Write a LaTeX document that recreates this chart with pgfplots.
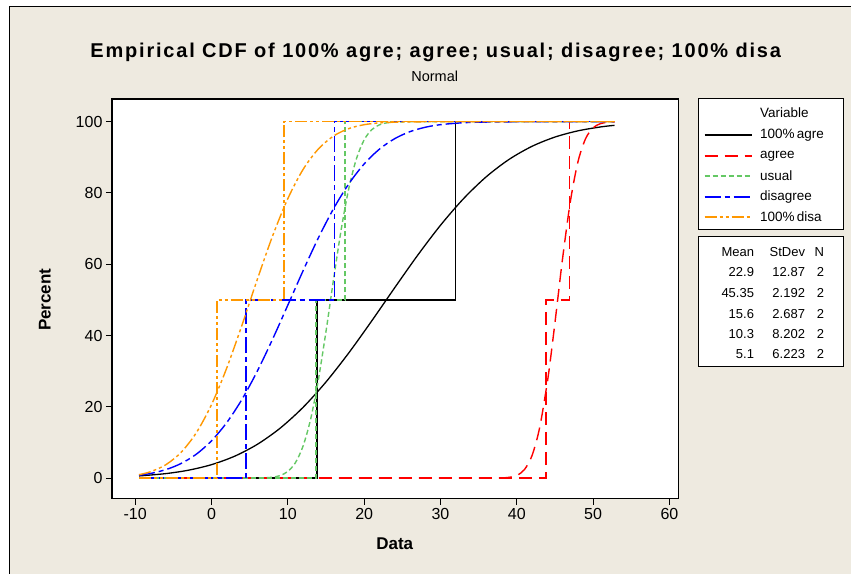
\documentclass[border=0pt]{standalone}
\usepackage{fontspec}
\setmainfont{Liberation Sans}
\newfontfamily\titlefont{Liberation Sans}[LetterSpace=9]
\usepackage{pgfplots}
\pgfplotsset{compat=1.18}
\definecolor{bgbeige}{RGB}{238,234,224}
\definecolor{mgreen}{RGB}{100,200,100}
\definecolor{morange}{RGB}{255,152,0}
\definecolor{mred}{RGB}{255,0,0}
\definecolor{mblue}{RGB}{0,0,255}
\tikzset{
 s1/.style={draw=black, line width=1.3pt},
 s2/.style={draw=mred, line width=1.4pt, dash pattern=on 13pt off 7pt},
 s3/.style={draw=mgreen, line width=1.4pt, dash pattern=on 5pt off 3pt},
 s4/.style={draw=mblue, line width=1.4pt, dash pattern=on 16pt off 4pt on 5pt off 4pt},
 s5/.style={draw=morange, line width=1.4pt, dash pattern=on 12pt off 3pt on 3pt off 3pt on 3pt off 3pt},
}
\begin{document}
\begin{tikzpicture}[x=1pt,y=1pt]
\fill[white] (0,0) rectangle (851,574);
\fill[bgbeige] (10,0) rectangle (851,567);
\draw[black, line width=1pt] (10,0) -- (10,567) -- (851,567);
\begin{axis}[at={(112pt,75pt)}, anchor=south west,
  width=567pt, height=400pt, scale only axis,
  xmin=-13.05, xmax=61.2, ymin=-5.8, ymax=106.4,
  xtick={-10,0,...,60}, ytick={0,20,...,100},
  tick align=outside, xtick pos=bottom, ytick pos=left,
  major tick length=6pt,
  axis line style={line width=1.2pt},
  every tick/.style={line width=1pt, black},
  tick label style={font=\fontsize{16}{16}\selectfont},
  /pgf/number format/assume math mode=true,
  axis background/.style={fill=white},
]
% 100% agre
\addplot[s1] coordinates {(-9.5,0) (13.8,0) (13.8,50) (32,50) (32,100) (52.8,100)};
\addplot[s1, smooth] coordinates {(-9.5,0.59) (-6,1.24) (-3,2.21) (0,3.76) (3,6.10) (6,9.46) (9,14.01) (12,19.85) (15,26.97) (18,35.17) (21,44.13) (24,53.41) (27,62.50) (30,70.94) (33,78.37) (36,84.56) (39,89.45) (42,93.11) (45,95.70) (48,97.44) (51,98.55) (52.8,98.99)};
% agree
\addplot[s2] coordinates {(-9.5,0) (43.8,0) (43.8,50) (46.9,50) (46.9,100) (52.8,100)};
\addplot[s2, smooth] coordinates {(-9.5,0) (10,0) (25,0) (32,0) (35,0) (37,0.01) (38,0.04) (39,0.19) (40,0.74) (41,2.37) (42,6.34) (43,14.21) (44,26.91) (44.5,34.90) (45,43.64) (45.5,52.71) (46,61.68) (47,77.40) (48,88.66) (49,95.20) (50,98.30) (51,99.50) (52,99.88) (52.8,99.97)};
% usual
\addplot[s3] coordinates {(-9.5,0) (13.7,0) (13.7,50) (17.5,50) (17.5,100) (52.8,100)};
\addplot[s3, smooth] coordinates {(-9.5,0) (0,0) (4,0) (6,0.02) (7,0.07) (8,0.23) (9,0.70) (10,1.86) (11,4.34) (12,9.01) (13,16.66) (14,27.60) (15,41.18) (15.5,48.52) (16,55.92) (17,69.88) (18,81.41) (19,89.71) (20,94.93) (21,97.78) (22,99.14) (23,99.71) (25,99.98) (28,100) (35,100) (52.8,100)};
% disagree
\addplot[s4] coordinates {(-9.5,0) (4.5,0) (4.5,50) (16.1,50) (16.1,100) (52.8,100)};
\addplot[s4, smooth] coordinates {(-9.5,0.79) (-8,1.28) (-6,2.35) (-4,4.07) (-2,6.68) (0,10.46) (2,15.58) (4,22.12) (6,30.01) (8,38.97) (10,48.54) (12,58.20) (14,67.40) (16,75.65) (18,82.61) (20,88.16) (22,92.31) (24,95.25) (26,97.22) (28,98.45) (30,99.18) (33,99.72) (36,99.91) (40,99.99) (45,100) (52.8,100)};
% 100% disa
\addplot[s5] coordinates {(-9.5,0) (0.7,0) (0.7,50) (9.5,50) (9.5,100) (52.8,100)};
\addplot[s5, smooth] coordinates {(-9.5,0.95) (-8,1.76) (-6,3.72) (-4,7.19) (-2,12.69) (0,20.62) (2,30.92) (4,42.98) (6,55.76) (8,67.94) (10,78.44) (12,86.63) (14,92.36) (16,96.01) (18,98.09) (20,99.17) (22,99.67) (25,99.93) (30,100) (40,100) (52.8,100)};
\end{axis}
% titles
\node[anchor=base, font=\titlefont\bfseries\fontsize{20}{20}\selectfont] at (436,516) {Empirical CDF of 100\% agre; agree; usual; disagree; 100\% disa};
\node[anchor=base, font=\fontsize{14.5}{14.5}\selectfont] at (435,492) {Normal};
\node[anchor=base, font=\bfseries\fontsize{17}{17}\selectfont] at (395,24) {Data};
\node[rotate=90, font=\bfseries\fontsize{17}{17}\selectfont] at (45,274) {Percent};
% legend box
\draw[black, line width=1pt, fill=white] (699,475) rectangle (844,344);
\begin{scope}[font=\fontsize{13.5}{13.5}\selectfont]
\node[anchor=west] at (757,461) {Variable};
\draw[s1] (705,439) -- (752,439); \node[anchor=west] at (757,439) {100\%\,agre};
\draw[s2] (705,418) -- (752,418); \node[anchor=west] at (757,418) {agree};
\draw[s3] (705,398) -- (752,398); \node[anchor=west] at (757,398) {usual};
\draw[s4] (705,377) -- (752,377); \node[anchor=west] at (757,377) {disagree};
\draw[s5] (705,357) -- (752,357); \node[anchor=west] at (757,357) {100\%\,disa};
\end{scope}
% stats box
\draw[black, line width=1pt, fill=white] (699,337) rectangle (844,207);
\begin{scope}[font=\fontsize{13}{13}\selectfont]
\node[anchor=east] at (758,322) {Mean};
\node[anchor=east] at (809,322) {StDev};
\node[anchor=east] at (828,322) {N};
\node[anchor=east] at (758,302) {22.9};  \node[anchor=east] at (809,302) {12.87}; \node[anchor=east] at (828,302) {2};
\node[anchor=east] at (758,281) {45.35}; \node[anchor=east] at (809,281) {2.192}; \node[anchor=east] at (828,281) {2};
\node[anchor=east] at (758,260) {15.6};  \node[anchor=east] at (809,260) {2.687}; \node[anchor=east] at (828,260) {2};
\node[anchor=east] at (758,240) {10.3};  \node[anchor=east] at (809,240) {8.202}; \node[anchor=east] at (828,240) {2};
\node[anchor=east] at (758,220) {5.1};   \node[anchor=east] at (809,220) {6.223}; \node[anchor=east] at (828,220) {2};
\end{scope}
\end{tikzpicture}
\end{document}
